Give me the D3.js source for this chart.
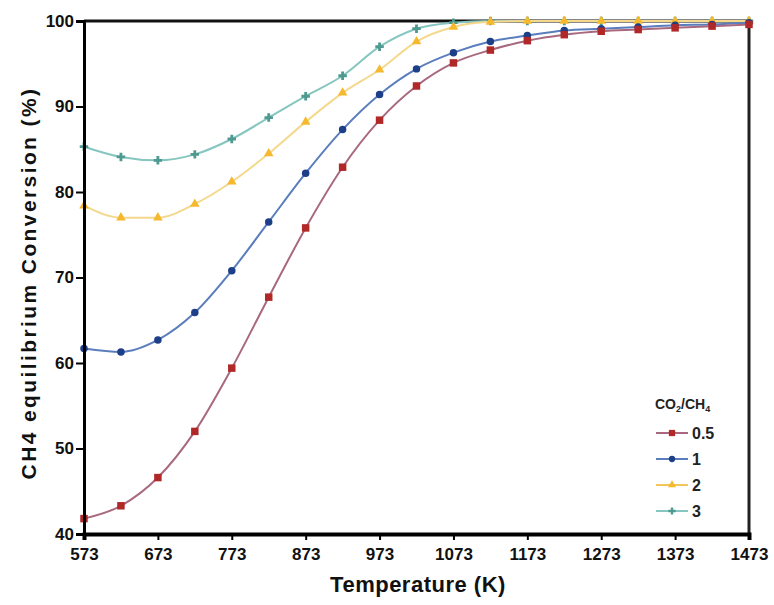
<!DOCTYPE html>
<html>
<head>
<meta charset="utf-8">
<script src="https://cdn.jsdelivr.net/npm/d3@7"></script>
<style>
  body { margin: 0; background: #fff; }
  text { font-family: "Liberation Sans", Arial, sans-serif; font-weight: bold; }
</style>
</head>
<body>
<script>
    // temperatures (K), one point every 50 K
    const temps = [573, 623, 673, 723, 773, 823, 873, 923, 973, 1023, 1073, 1123, 1173, 1223, 1273, 1323, 1373, 1423, 1473];

    const conv05 = [41.8, 43.3, 46.6, 52.0, 59.4, 67.7, 75.8, 82.9, 88.4, 92.4, 95.1, 96.6, 97.7, 98.4, 98.8, 99.0, 99.2, 99.4, 99.6];
    const conv1  = [61.7, 61.3, 62.7, 65.9, 70.8, 76.5, 82.2, 87.3, 91.4, 94.4, 96.3, 97.6, 98.3, 98.9, 99.1, 99.3, 99.5, 99.6, 99.8];
    const conv2  = [78.4, 77.0, 77.0, 78.6, 81.2, 84.5, 88.2, 91.6, 94.3, 97.6, 99.3, 99.9, 100, 100, 100, 100, 100, 100, 100];
    const conv3  = [85.3, 84.1, 83.7, 84.4, 86.2, 88.7, 91.2, 93.6, 97.0, 99.1, 99.8, 100, 100, 100, 100, 100, 100, 100, 100];

    const seriesNames = ["0.5", "1", "2", "3"];
    const xTicks = [573, 673, 773, 873, 973, 1073, 1173, 1273, 1373, 1473];
    const yTicks = [40, 50, 60, 70, 80, 90, 100];

    const width = 774, height = 605;
    const plotLeft = 84, plotRight = 749, plotTop = 21, plotBottom = 534;

    const svg = d3.select("body").append("svg")
        .attr("width", width)
        .attr("height", height);

    const x = d3.scaleLinear().domain([573, 1473]).range([plotLeft, plotRight]);
    const y = d3.scaleLinear().domain([40, 100]).range([plotBottom, plotTop]);

    const series = [
        { name: seriesNames[0], values: conv05, line: "#a8697f", mark: "#b02828", shape: d3.symbolSquare, size: 56 },
        { name: seriesNames[1], values: conv1,  line: "#5a7dbd", mark: "#1c3f88", shape: d3.symbolCircle, size: 44 },
        { name: seriesNames[2], values: conv2,  line: "#f4d88c", mark: "#f6b82c", shape: d3.symbolTriangle, size: 40 },
        { name: seriesNames[3], values: conv3,  line: "#86c6c0", mark: "#4e9a90", shape: d3.symbolCross, size: 40 }
    ];

    // frame top and right (under the data lines)
    svg.append("line")
        .attr("x1", plotLeft).attr("x2", plotRight).attr("y1", plotTop).attr("y2", plotTop)
        .attr("stroke", "#111").attr("stroke-width", 3);
    svg.append("line")
        .attr("x1", plotRight).attr("x2", plotRight).attr("y1", plotTop).attr("y2", plotBottom)
        .attr("stroke", "#222").attr("stroke-width", 3);

    const line = d3.line()
        .x((d, i) => x(temps[i]))
        .y(d => y(d))
        .curve(d3.curveMonotoneX);

    // draw series from last to first so red/blue sit on top
    series.slice().reverse().forEach(s => {
        svg.append("path")
            .attr("d", line(s.values))
            .attr("fill", "none")
            .attr("stroke", s.line)
            .attr("stroke-width", 2);

        svg.selectAll(null)
            .data(s.values)
            .enter()
            .append("path")
            .attr("transform", (d, i) => `translate(${x(temps[i])},${y(d)})`)
            .attr("d", d3.symbol().type(s.shape).size(s.size))
            .attr("fill", s.mark);
    });

    // axes
    const xAxis = svg.append("g")
        .attr("transform", `translate(0,${plotBottom})`)
        .call(d3.axisBottom(x).tickValues(xTicks).tickSize(6).tickPadding(8).tickFormat(d3.format("d")));
    xAxis.select(".domain").attr("stroke", "#000").attr("stroke-width", 4);
    xAxis.selectAll(".tick line").attr("stroke", "#000").attr("stroke-width", 2);
    xAxis.selectAll(".tick text").attr("font-size", 17).attr("fill", "#111")
        .style("font-family", '"Liberation Sans", Arial, sans-serif');

    const yAxis = svg.append("g")
        .attr("transform", `translate(${plotLeft},0)`)
        .call(d3.axisLeft(y).tickValues(yTicks).tickSize(8).tickPadding(2));
    yAxis.select(".domain").attr("stroke", "#000").attr("stroke-width", 3);
    yAxis.selectAll(".tick line").attr("stroke", "#000").attr("stroke-width", 2);
    yAxis.selectAll(".tick text").attr("font-size", 17).attr("fill", "#111")
        .style("font-family", '"Liberation Sans", Arial, sans-serif');

    // axis titles
    svg.append("text")
        .attr("transform", "translate(36,283) rotate(-90)")
        .attr("text-anchor", "middle")
        .attr("font-size", 21)
        .attr("letter-spacing", 2.4)
        .attr("fill", "#111")
        .text("CH4 equilibrium Conversion (%)");

    svg.append("text")
        .attr("x", 418)
        .attr("y", 592)
        .attr("text-anchor", "middle")
        .attr("font-size", 22)
        .attr("letter-spacing", 0.5)
        .attr("fill", "#111")
        .text("Temperature (K)");

    // legend
    const legendTitle = svg.append("text")
        .attr("x", 655)
        .attr("y", 409)
        .attr("font-size", 14)
        .attr("font-weight", "normal")
        .attr("fill", "#222");
    legendTitle.append("tspan").text("CO");
    legendTitle.append("tspan").attr("font-size", 9).attr("dy", 3).text("2");
    legendTitle.append("tspan").attr("dy", -3).text("/CH");
    legendTitle.append("tspan").attr("font-size", 9).attr("dy", 3).text("4");

    const legend = svg.selectAll(".legend-item")
        .data(series)
        .enter()
        .append("g")
        .attr("transform", (d, i) => `translate(656,${433 + i * 26})`);

    legend.append("line")
        .attr("x1", 0).attr("x2", 32)
        .attr("stroke", d => d.line === "#f4d88c" ? "#f2c65a" : d.line)
        .attr("stroke-width", 2);
    legend.append("path")
        .attr("transform", "translate(16,0)")
        .attr("d", d => d3.symbol().type(d.shape).size(d.size * 0.7)())
        .attr("fill", d => d.mark);
    legend.append("text")
        .attr("x", 36)
        .attr("y", 6)
        .attr("font-size", 16)
        .attr("fill", "#222")
        .text(d => d.name);
</script>
</body>
</html>
